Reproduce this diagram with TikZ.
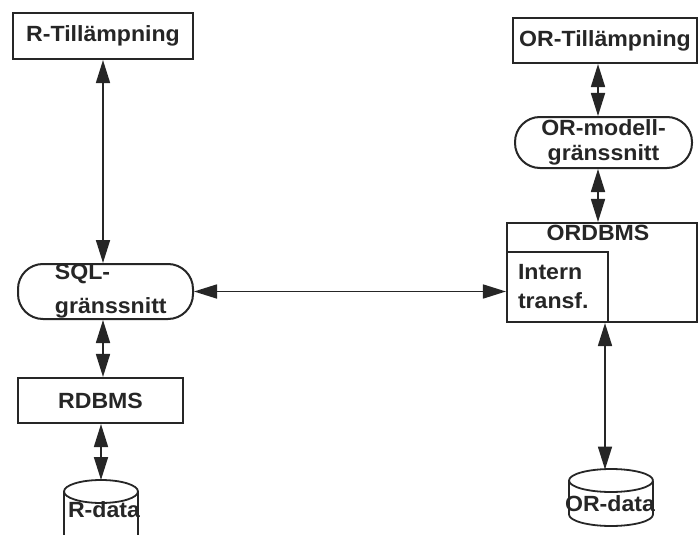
\documentclass[tikz,border=0pt]{standalone}
\usepackage{fontspec}
\setmainfont{Liberation Sans}[FakeStretch=1.05]
\usetikzlibrary{arrows.meta}
\definecolor{ink}{HTML}{262626}

\begin{document}
\begin{tikzpicture}[x=1pt,y=-1pt,
  every node/.style={text=ink, font=\fontsize{22}{26}\selectfont\bfseries, inner sep=0pt},
  boxnode/.style={draw=ink, line width=2.1pt, rectangle},
  pill/.style={draw=ink, line width=2pt, rectangle, rounded corners=25pt},
  drum/.style={draw=ink, line width=1.8pt},
  link/.style={draw=ink, line width=1.7pt,
    {Triangle[length=23pt,width=14pt]}-{Triangle[length=23pt,width=14pt]}},
]
\useasboundingbox (0,0) rectangle (699,535);
\fill[white] (0,0) rectangle (699,535);

% left column: relational side
\node[boxnode, minimum width=180pt, minimum height=46pt] (rapp) at (103,36) {R-Tillämpning};
\node[pill, minimum width=175pt, minimum height=55pt, align=left, text width=150pt]
  (sql) at (105.5,291.5) {\hspace*{24.5pt}SQL-\\[8pt]\hspace*{24.5pt}gränssnitt};
\node[boxnode, minimum width=165pt, minimum height=45pt] (rdbms) at (100.5,400.5) {RDBMS};

% R-data store (runs off the lower edge)
\draw[drum] (138,491.5) arc[start angle=0, end angle=360, x radius=37, y radius=11.5];
\draw[drum] (64,491.5) -- (64,548) (138,491.5) -- (138,548);
\coordinate (rtop) at (101,480);
\node[anchor=base] (rdatatext) at (104,517) {R-data};

% right column: object-relational side
\node[boxnode, minimum width=184pt, minimum height=45pt] (orapp) at (605,40.5) {OR-Tillämpning};
\node[pill, minimum width=177pt, minimum height=51pt, align=center]
  (ormod) at (603.5,142.5) {OR-modell-\\[-1pt]gränssnitt};
\node[boxnode, minimum width=190pt, minimum height=99pt,
  label={[name=ordbmslabel, anchor=north, yshift=-3pt, xshift=-4pt]north:ORDBMS}]
  (ordbms) at (602,272.5) {};
\node[boxnode, minimum width=101pt, minimum height=70pt, align=left, text width=79pt]
  (intern) at (557.5,287) {Intern\\[3pt]transf.};

% OR-data store
\draw[drum] (653,480.5) arc[start angle=0, end angle=360, x radius=42, y radius=11.5];
\draw[drum] (569,480.5) -- (569,514.5) (653,480.5) -- (653,514.5);
\draw[drum] (653,514.5) arc[start angle=0, end angle=180, x radius=42, y radius=11.5];
\coordinate (ortop) at (605,469.5);
\node[anchor=base] (ordatatext) at (610,511) {OR-data};

% connectors
\draw[link] (rapp.south) -- (rapp.south |- sql.north);
\draw[link] (sql.south -| rapp.south) -- (rapp.south |- rdbms.north);
\draw[link] (rdbms.south -| rtop) -- (rtop);
\draw[link] (sql.east) -- (sql.east -| intern.west);
\draw[link] ([xshift=-5.5pt]ormod.north |- orapp.south) -- ([xshift=-5.5pt]ormod.north);
\draw[link] ([xshift=-5.5pt]ormod.south) -- ([xshift=-5.5pt]ormod.south |- ordbms.north);
\draw[link] (intern.south -| ortop) -- (ortop);
\end{tikzpicture}
\end{document}
